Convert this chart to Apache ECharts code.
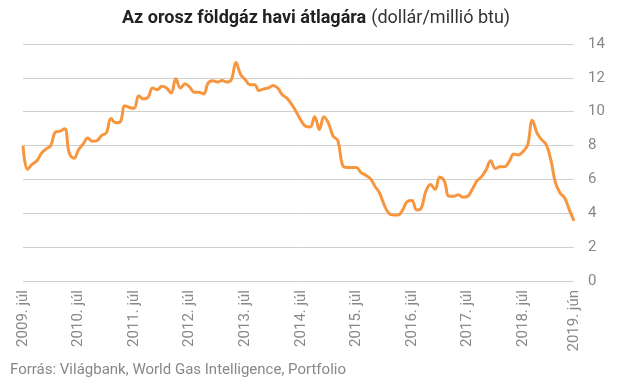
<!DOCTYPE html>
<html><head><meta charset="utf-8">
<script src="https://cdn.jsdelivr.net/npm/echarts@6/dist/echarts.min.js"></script>
<style>html,body{margin:0;padding:0;background:#fff}#c{width:628px;height:381px}</style>
</head><body><div id="c"></div>
<script>
const startYear = 2009, startMonth = 7, monthCount = 120;
const prices = [
 8.0,6.6,6.9,7.1,7.55,7.8,8.0,8.8,8.85,9.0,7.55,7.25,
 7.75,8.1,8.45,8.25,8.3,8.6,8.75,9.6,9.35,9.4,10.35,10.25,
 10.2,10.95,10.75,10.85,11.4,11.3,11.5,11.4,11.1,11.95,11.4,11.65,
 11.45,11.15,11.15,11.05,11.7,11.83,11.75,11.85,11.75,11.9,12.9,12.2,
 11.9,11.6,11.6,11.25,11.35,11.4,11.55,11.4,11.0,10.8,10.45,10.0,
 9.5,9.15,9.1,9.7,8.95,9.7,9.3,8.55,8.3,6.85,6.7,6.7,
 6.7,6.4,6.25,6.05,5.6,5.2,4.5,4.0,3.9,3.9,4.2,4.7,
 4.75,4.2,4.3,5.3,5.7,5.4,6.15,5.9,5.0,5.0,5.1,4.95,
 5.0,5.4,5.9,6.15,6.55,7.1,6.65,6.75,6.75,7.05,7.5,7.45,
 7.65,8.05,9.5,8.75,8.35,8.05,7.15,5.8,5.2,4.9,4.2,3.55
];
const monthNames = ['jan','febr','márc','ápr','máj','jún','júl','aug','szept','okt','nov','dec'];
const categories = [];
for (let i = 0; i < monthCount; i++) {
  const m = (startMonth - 1 + i) % 12;
  const y = startYear + Math.floor((startMonth - 1 + i) / 12);
  categories.push(y + '. ' + monthNames[m]);
}
const yTicks = [0,2,4,6,8,10,12,14];

const chart = echarts.init(document.getElementById('c'));
chart.setOption({
  animation: false,
  title: {
    text: '{b|Az orosz földgáz havi átlagára} {n|(dollár/millió btu)}',
    left: 311, top: 4, textAlign: 'center',
    textStyle: { rich: {
      b: { fontFamily: 'Roboto', fontWeight: 'bold', fontSize: 18, color: '#222' },
      n: { fontFamily: 'Roboto', fontWeight: 'normal', fontSize: 18, color: '#333' }
    } }
  },
  graphic: [{
    type: 'text', left: 10, top: 363,
    style: { text: 'Forrás: Világbank, World Gas Intelligence, Portfolio', fill: '#888', font: '15px Roboto' }
  }],
  grid: { left: 23, right: 54, top: 44, bottom: 100 },
  xAxis: {
    type: 'category', data: categories, boundaryGap: false,
    axisLine: { show: false }, axisTick: { show: false },
    axisLabel: {
      rotate: 90, color: '#888', fontFamily: 'Roboto', fontSize: 15, margin: 9,
      interval: (idx) => idx % 12 === 0 || idx === monthCount - 1
    }
  },
  yAxis: {
    type: 'value', position: 'right', min: yTicks[0], max: yTicks[yTicks.length - 1], interval: 2,
    axisLine: { show: false }, axisTick: { show: false },
    axisLabel: { color: '#888', fontFamily: 'Roboto', fontSize: 15, margin: 14 },
    splitLine: { lineStyle: { color: '#cfcfcf', width: 1 } }
  },
  series: [{
    type: 'line', data: prices, smooth: 0.4, showSymbol: false,
    lineStyle: { color: '#F7963F', width: 3 }
  }]
});
</script></body></html>
